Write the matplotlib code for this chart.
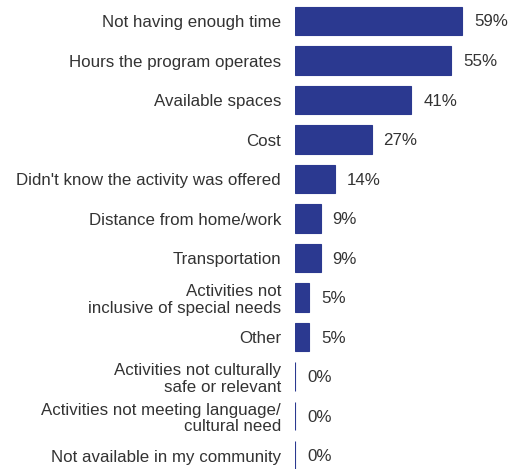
import matplotlib
matplotlib.use("Agg")
import matplotlib.pyplot as plt
from matplotlib.transforms import offset_copy

categories = [
    "Not having enough time",
    "Hours the program operates",
    "Available spaces",
    "Cost",
    "Didn't know the activity was offered",
    "Distance from home/work",
    "Transportation",
    "Activities not\ninclusive of special needs",
    "Other",
    "Activities not culturally\nsafe or relevant",
    "Activities not meeting language/\ncultural need",
    "Not available in my community",
]
values = [59, 55, 41, 27, 14, 9, 9, 5, 5, 0, 0, 0]

plt.rcParams['font.family'] = ['Liberation Sans', 'DejaVu Sans']

W, H = 513, 469
fig = plt.figure(figsize=(W / 100, H / 100), dpi=100)
left, right = 295 / W, 495 / W
ax = fig.add_axes([left, 0, right - left, 1])

color = "#2b3990"
ypos = list(range(len(categories)))
ax.barh(ypos, values, height=0.72, color=color, edgecolor=color, linewidth=0.8)

ax.set_xlim(0, 70.5)
row0 = 21 / 39.5
ax.set_ylim((H - 21) / 39.5, -row0)

ax.set_yticks(ypos)
ax.set_yticklabels(categories, fontsize=12.2, color="#333333", linespacing=1.15)
ax.tick_params(axis="y", length=0, pad=10)
ax.set_xticks([])
for s in ax.spines.values():
    s.set_visible(False)

trans = offset_copy(ax.transData, fig=fig, x=12, y=-1, units="dots")
for y, v in zip(ypos, values):
    ax.text(v, y, f"{v}%", transform=trans, va="center", ha="left",
            fontsize=12.2, color="#333333")

fig.savefig("out.png", dpi=100)
